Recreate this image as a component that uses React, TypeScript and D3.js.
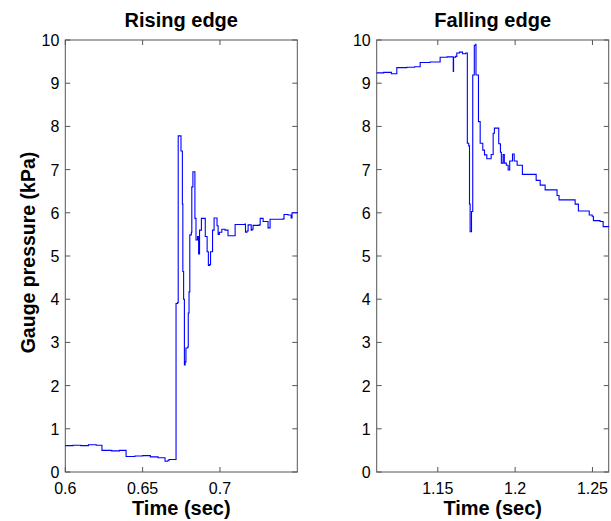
import React, { useEffect, useRef } from "react";
import * as d3 from "d3";

const risingTime: number[] = [
  0.6, 0.605, 0.61, 0.615, 0.62, 0.6237, 0.63, 0.635, 0.6393, 0.645, 0.65, 0.655, 0.66,
  0.6645, 0.666, 0.667, 0.6716, 0.6725, 0.673, 0.6748, 0.6757, 0.676, 0.6765, 0.677, 0.6775,
  0.678, 0.6792, 0.6795, 0.68, 0.6805, 0.6815, 0.6818, 0.6825, 0.6835, 0.6838, 0.6845, 0.6855, 0.6862, 0.6868,
  0.688, 0.6898, 0.6905, 0.6917, 0.6925, 0.6933, 0.6939, 0.6952, 0.6962, 0.6975, 0.6981, 0.6988, 0.6996, 0.7012,
  0.7033, 0.7052, 0.7085, 0.7098, 0.7162, 0.7165, 0.7175, 0.7182, 0.7195, 0.7202, 0.7208, 0.7214, 0.7253, 0.726,
  0.7279, 0.7298, 0.7311, 0.7324, 0.7408, 0.7414, 0.744, 0.746, 0.7466, 0.7505,
];
const risingValue: number[] = [
  0.61, 0.62, 0.61, 0.63, 0.62, 0.5, 0.49, 0.5, 0.36, 0.37, 0.38, 0.35, 0.33,
  0.25, 0.26, 0.29, 3.9, 3.92, 7.78, 7.43, 6.2, 4.64, 4.0, 2.48, 2.55,
  2.87, 2.9, 3.68, 4.17, 5.49, 5.55, 6.6, 6.95, 6.95, 5.87, 5.37, 5.45, 5.05, 5.6,
  5.87, 5.87, 5.45, 5.1, 4.78, 4.8, 5.1, 5.6, 5.88, 5.88, 5.7, 5.5, 5.55, 5.62,
  5.6, 5.47, 5.47, 5.73, 5.74, 5.55, 5.58, 5.72, 5.72, 5.6, 5.62, 5.71, 5.72, 5.87,
  5.8, 5.8, 5.65, 5.85, 5.86, 5.96, 5.95, 5.88, 6.0, 6.0,
];

const fallingTime: number[] = [
  1.1105, 1.115, 1.12, 1.1235, 1.13, 1.135, 1.1386, 1.145, 1.1515, 1.156, 1.16,
  1.1602, 1.1615, 1.1623, 1.164, 1.166, 1.168, 1.1691, 1.17, 1.1705, 1.1709, 1.1714, 1.1718, 1.1722,
  1.1726, 1.1736, 1.1745, 1.1747, 1.1757, 1.1763, 1.1774, 1.1791, 1.1802, 1.1817, 1.1838, 1.1845, 1.1858, 1.1866,
  1.189, 1.1894, 1.1905, 1.1911, 1.1922, 1.193, 1.1943, 1.1955, 1.1965, 1.1983, 1.1994, 1.2013, 1.2047, 1.2118,
  1.2136, 1.2162, 1.2188, 1.2194, 1.2259, 1.2271, 1.2284, 1.2375, 1.2388, 1.2409, 1.2453, 1.2479, 1.2498, 1.2506,
  1.2549, 1.2569, 1.2604,
];
const fallingValue: number[] = [
  9.24, 9.25, 9.22, 9.36, 9.37, 9.38, 9.48, 9.49, 9.6, 9.61, 9.27,
  9.6, 9.62, 9.7, 9.72, 9.68, 9.7, 7.61, 7.55, 6.2, 5.56, 5.56, 6.03, 6.03,
  9.19, 9.88, 9.9, 9.19, 9.19, 8.11, 7.61, 7.45, 7.34, 7.25, 7.25, 7.35, 7.84, 7.96,
  7.96, 7.6, 7.4, 7.15, 7.35, 7.15, 7.1, 6.99, 7.2, 7.36, 7.2, 7.1, 6.89, 6.89,
  6.75, 6.64, 6.64, 6.53, 6.53, 6.4, 6.3, 6.3, 6.2, 6.04, 6.04, 5.95, 5.92, 5.82,
  5.8, 5.68, 5.67,
];

const panelTitles: string[] = ["Rising edge", "Falling edge"];
const risingTicks: number[] = [0.6, 0.65, 0.7];
const fallingTicks: number[] = [1.15, 1.2, 1.25];
const yTicks: number[] = [0, 1, 2, 3, 4, 5, 6, 7, 8, 9, 10];
const xLabel = "Time (sec)";
const yLabel = "Gauge pressure (kPa)";

export default function App() {
  const ref = useRef<SVGSVGElement | null>(null);

  useEffect(() => {
    const svg = d3.select(ref.current);
    svg.selectAll("*").remove();
    const top = 40;
    const bottom = 472;
    const y = d3.scaleLinear().domain([0, 10]).range([bottom, top]);
    const font = "Liberation Sans, Arial, sans-serif";

    const panels = [
      { left: 65.3, right: 297.3, domain: [0.6, 0.75], ticks: risingTicks, t: risingTime, v: risingValue, title: panelTitles[0] },
      { left: 376.7, right: 608.7, domain: [1.1105, 1.2605], ticks: fallingTicks, t: fallingTime, v: fallingValue, title: panelTitles[1] },
    ];

    panels.forEach((p) => {
      const x = d3.scaleLinear().domain(p.domain).range([p.left, p.right]);
      const g = svg.append("g");
      const frame = "#555";
      g.append("rect")
        .attr("x", p.left)
        .attr("y", top)
        .attr("width", p.right - p.left)
        .attr("height", bottom - top)
        .attr("fill", "white")
        .attr("stroke", frame)
        .attr("stroke-width", 1);
      p.ticks.forEach((tk) => {
        const xx = x(tk);
        g.append("line").attr("x1", xx).attr("x2", xx).attr("y1", bottom).attr("y2", bottom - 5).attr("stroke", frame);
        g.append("line").attr("x1", xx).attr("x2", xx).attr("y1", top).attr("y2", top + 5).attr("stroke", frame);
        g.append("text")
          .attr("x", xx)
          .attr("y", bottom + 21.5)
          .attr("text-anchor", "middle")
          .attr("font-family", font)
          .attr("font-size", 16)
          .attr("fill", "#000")
          .text(String(tk));
      });
      yTicks.forEach((tk) => {
        const yy = y(tk);
        g.append("line").attr("x1", p.left).attr("x2", p.left + 5).attr("y1", yy).attr("y2", yy).attr("stroke", frame);
        g.append("line").attr("x1", p.right).attr("x2", p.right - 5).attr("y1", yy).attr("y2", yy).attr("stroke", frame);
        g.append("text")
          .attr("x", p.left - 6)
          .attr("y", yy + 6)
          .attr("text-anchor", "end")
          .attr("font-family", font)
          .attr("font-size", 16)
          .attr("fill", "#000")
          .text(String(tk));
      });
      const data = p.t.map((t, i) => [t, p.v[i]] as [number, number]);
      const line = d3
        .line<[number, number]>()
        .x((d) => x(d[0]))
        .y((d) => y(d[1]))
        .curve(d3.curveStepAfter);
      g.append("path")
        .attr("d", line(data) || "")
        .attr("fill", "none")
        .attr("stroke", "#0000ff")
        .attr("stroke-width", 1.1);
      g.append("text")
        .attr("x", (p.left + p.right) / 2)
        .attr("y", 27)
        .attr("text-anchor", "middle")
        .attr("font-family", font)
        .attr("font-size", 20)
        .attr("font-weight", "bold")
        .attr("fill", "#000")
        .text(p.title);
      g.append("text")
        .attr("x", (p.left + p.right) / 2)
        .attr("y", 515)
        .attr("text-anchor", "middle")
        .attr("font-family", font)
        .attr("font-size", 20)
        .attr("font-weight", "bold")
        .attr("fill", "#000")
        .text(xLabel);
    });

    svg
      .append("text")
      .attr("transform", `translate(34.5,252.5) rotate(-90)`)
      .attr("text-anchor", "middle")
      .attr("font-family", font)
      .attr("font-size", 19.5)
      .attr("font-weight", "bold")
      .attr("fill", "#000")
      .text(yLabel);
  }, []);

  return (
    <svg
      ref={ref}
      width={611}
      height={521}
      style={{ position: "absolute", left: 0, top: 0, background: "white" }}
    />
  );
}
